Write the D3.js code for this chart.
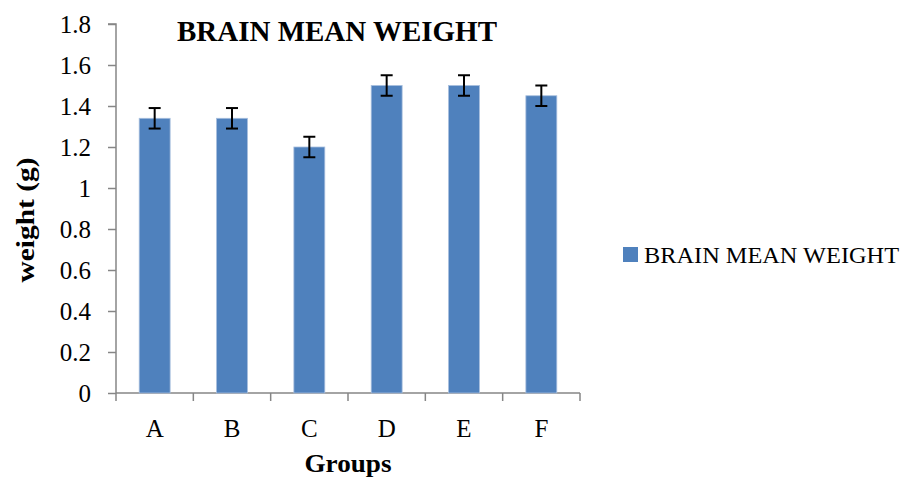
<!DOCTYPE html>
<html>
<head>
<meta charset="utf-8">
<script src="https://cdn.jsdelivr.net/npm/d3@7"></script>
<style>
  body { margin: 0; background: #fff; }
  text { font-family: "Liberation Serif", "DejaVu Serif", serif; fill: #000; }
</style>
</head>
<body>
<div id="chart"></div>
<script>
// Chart data
const groups = ['A', 'B', 'C', 'D', 'E', 'F'];
const meanWeight = [1.34, 1.34, 1.2, 1.5, 1.5, 1.45];
const errWeight = [0.05, 0.05, 0.05, 0.05, 0.05, 0.05];
const yTicks = [0, 0.2, 0.4, 0.6, 0.8, 1, 1.2, 1.4, 1.6, 1.8];
const seriesName = 'BRAIN MEAN WEIGHT';

const width = 903, height = 480;
const plot = { left: 116, right: 580, top: 24, bottom: 393 };
const axisColor = '#868686';
const barColor = '#4F81BD';

let svg = d3.select('#chart').append('svg')
    .attr('width', width)
    .attr('height', height);

svg.append('rect').attr('width', width).attr('height', height).attr('fill', '#fff');

let xScale = d3.scaleBand()
    .domain(groups)
    .range([plot.left, plot.right])
    .paddingInner(0.6)
    .paddingOuter(0.3);

let yScale = d3.scaleLinear()
    .domain([0, 1.8])
    .range([plot.bottom, plot.top]);

// Y axis
let yAxis = svg.append('g')
    .attr('transform', `translate(${plot.left},0)`)
    .call(d3.axisLeft(yScale).tickValues(yTicks).tickSize(8).tickPadding(17)
        .tickFormat(d => d3.format('')(+d.toFixed(1))));
yAxis.selectAll('line, path').attr('stroke', axisColor).attr('stroke-width', 1.5);
yAxis.select('.domain').attr('d', `M-8,${plot.top}H0V${plot.bottom}`);
yAxis.selectAll('text').style('font-size', '25px').attr('fill', '#000');

// X axis with ticks at band boundaries
let xg = svg.append('g');
xg.append('line')
    .attr('x1', plot.left).attr('x2', plot.right)
    .attr('y1', plot.bottom).attr('y2', plot.bottom)
    .attr('stroke', axisColor).attr('stroke-width', 1.5);
d3.range(groups.length + 1).forEach(i => {
    let x = plot.left + i * (plot.right - plot.left) / groups.length;
    xg.append('line')
        .attr('x1', x).attr('x2', x)
        .attr('y1', plot.bottom).attr('y2', plot.bottom + 8)
        .attr('stroke', axisColor).attr('stroke-width', 1.5);
});
xg.selectAll('.xlab')
    .data(groups)
    .enter()
    .append('text')
    .attr('class', 'xlab')
    .attr('x', d => xScale(d) + xScale.bandwidth() / 2)
    .attr('y', 437)
    .attr('text-anchor', 'middle')
    .style('font-size', '25px')
    .text(d => d);

// Bars
let data = groups.map((g, i) => ({ label: g, value: meanWeight[i], err: errWeight[i] }));
svg.selectAll('rect.bar')
    .data(data)
    .enter()
    .append('rect')
    .attr('class', 'bar')
    .attr('x', d => xScale(d.label))
    .attr('y', d => yScale(d.value))
    .attr('width', xScale.bandwidth())
    .attr('height', d => plot.bottom - yScale(d.value))
    .attr('fill', barColor)
    .attr('stroke', '#A7BFDE')
    .attr('stroke-width', 0.8);

// Error bars
let eb = svg.selectAll('g.err')
    .data(data)
    .enter()
    .append('g')
    .attr('class', 'err')
    .attr('stroke', '#000')
    .attr('stroke-width', 2);
eb.append('line')
    .attr('x1', d => xScale(d.label) + xScale.bandwidth() / 2)
    .attr('x2', d => xScale(d.label) + xScale.bandwidth() / 2)
    .attr('y1', d => yScale(d.value + d.err))
    .attr('y2', d => yScale(d.value - d.err));
[1, -1].forEach(s => {
    eb.append('line')
        .attr('x1', d => xScale(d.label) + xScale.bandwidth() / 2 - 6)
        .attr('x2', d => xScale(d.label) + xScale.bandwidth() / 2 + 6)
        .attr('y1', d => yScale(d.value + s * d.err))
        .attr('y2', d => yScale(d.value + s * d.err));
});

// Titles
svg.append('text')
    .attr('x', 337).attr('y', 41)
    .attr('text-anchor', 'middle')
    .attr('textLength', 320).attr('lengthAdjust', 'spacingAndGlyphs')
    .style('font-size', '29px').style('font-weight', 'bold')
    .text(seriesName);

svg.append('text')
    .attr('transform', 'translate(34,220) rotate(-90)')
    .attr('text-anchor', 'middle')
    .attr('textLength', 125).attr('lengthAdjust', 'spacingAndGlyphs')
    .style('font-size', '25px').style('font-weight', 'bold')
    .text('weight (g)');

svg.append('text')
    .attr('x', 348).attr('y', 472)
    .attr('text-anchor', 'middle')
    .attr('textLength', 87).attr('lengthAdjust', 'spacingAndGlyphs')
    .style('font-size', '25px').style('font-weight', 'bold')
    .text('Groups');

// Legend
svg.append('rect')
    .attr('x', 623).attr('y', 247)
    .attr('width', 15).attr('height', 15)
    .attr('fill', barColor);
svg.append('text')
    .attr('x', 644).attr('y', 263)
    .attr('textLength', 255).attr('lengthAdjust', 'spacingAndGlyphs')
    .style('font-size', '23px')
    .text(seriesName);
</script>
</body>
</html>
